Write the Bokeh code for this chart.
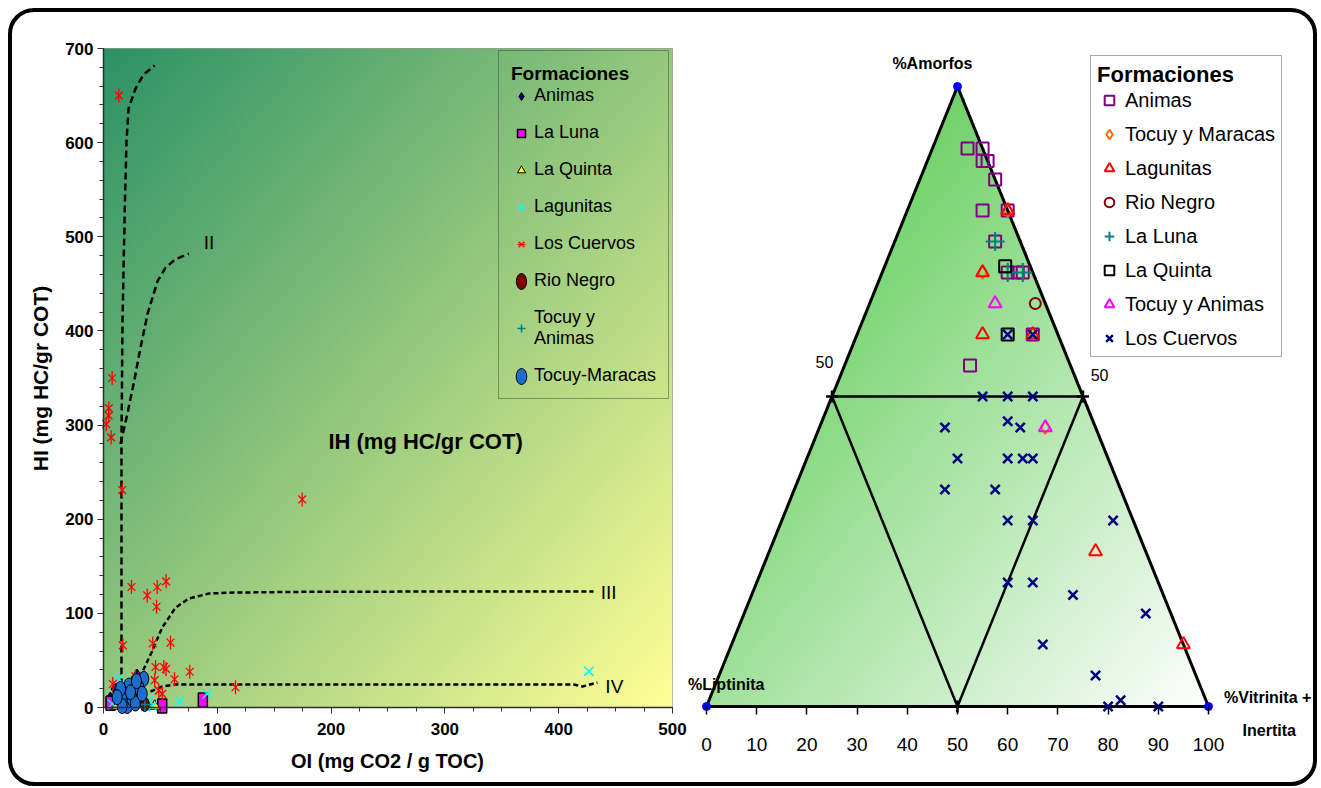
import numpy as np
from bokeh.plotting import figure
from bokeh.models import (Range1d, Legend, LegendItem, Label, SingleIntervalTicker, FixedTicker,
                          BoxAnnotation)
from bokeh.layouts import row
from bokeh.embed import file_html
from bokeh.resources import INLINE

FONT = "Liberation Sans"

# ---------------- Left chart data: HI vs OI ----------------
animas_oi = [29.5, 10.5, 6.0, 34.0, 25.0]
animas_hi = [34.0, 19.8, 9.5, 5.0, 26.0]
laluna_oi = [87.3, 51.6, 6.2]
laluna_hi = [8.1, 1.5, 4.6]
laquinta_oi = [45.0, 28.0, 12.0]
laquinta_hi = [1.5, 9.2, 1.5]
lagunitas_oi = [426.5, 91.0, 66.8, 39.8, 37.0, 42.8, 13.5, 7.6, 34.0]
lagunitas_hi = [38.5, 14.5, 6.7, 7.4, 1.0, 1.5, 30.4, 3.9, 12.7]
cuervos_oi = [13.5, 7.6, 4.7, 4.5, 2.4, 6.7, 16.4, 174.6, 24.6, 38.4, 47.2, 55.0, 46.6, 17.0,
              43.3, 58.9, 8.2, 45.7, 53.0, 55.0, 62.4, 75.8, 45.0, 48.6, 51.6, 116.0, 28.0]
cuervos_hi = [650, 350, 318, 310, 301, 287, 231, 221, 128, 119, 128, 134, 107, 66,
              68, 69, 25, 43, 43, 41, 30, 38, 29, 18, 14.5, 21.5, 33]
rionegro_oi = [36.3]
rionegro_hi = [3.2]
tocuyanimas_oi = [36.3, 28.0]
tocuyanimas_hi = [3.2, 30.0]
tocuymaracas_oi = [22.3, 35.4, 17.8, 20.8, 15.0, 25.2, 31.0, 28.0, 16.4, 23.7, 12.0, 34.0, 29.0]
tocuymaracas_hi = [23.3, 30.4, 11.0, 1.5, 19.8, 9.2, 21.5, 4.2, 1.5, 16.2, 11.0, 14.5, 28.0]

# kerogen type boundary curves
curve_i_oi = [15.8, 15.8, 16.7, 18.7, 20.2, 22.0, 28.0, 35.0, 45.0]
curve_i_hi = [0, 280, 410, 530, 601, 636, 657, 672, 682]
curve_ii_oi = [15.0, 21.0, 27.0, 32.5, 38.7, 47.5, 54.5, 63.0, 75.0]
curve_ii_hi = [280, 312, 347, 382, 418, 453, 467, 476, 482]
curve_iii_oi = [23.7, 34.0, 42.8, 51.6, 63.3, 74.7, 92.3, 110.0, 186.0, 430.6]
curve_iii_hi = [18.0, 37.4, 60.0, 85.0, 106.0, 115.6, 121.0, 122.0, 123.0, 123.3]
curve_iv_oi = [41.3, 51.8, 63.3, 300.0, 413.0, 421.0, 434.0]
curve_iv_hi = [17.0, 22.3, 24.4, 24.4, 24.4, 22.3, 26.5]

# ---------------- Right chart data: ternary (% Amorfos, % Vitrinita+Inertita) ----------------
t_animas_a = [90, 90, 88, 88, 85, 80, 80, 75, 70, 70, 70, 60, 55]
t_animas_v = [7, 10, 11, 12, 15, 15, 20, 20, 25, 27, 28, 35, 25]
t_tocuymar_a = [80, 70, 45]
t_tocuymar_v = [20, 20, 45]
t_lagunitas_a = [80, 70, 60, 60, 25, 10]
t_lagunitas_v = [20, 20, 25, 35, 65, 90]
t_rionegro_a = [65]
t_rionegro_v = [33]
t_laluna_a = [75, 70, 70]
t_laluna_v = [20, 25, 28]
t_laquinta_a = [71, 60]
t_laquinta_v = [24, 30]
t_tocuyani_a = [65, 45]
t_tocuyani_v = [25, 45]
t_cuervos_a = [50, 50, 50, 46, 45, 45, 40, 40, 40, 40, 35, 35, 30, 30, 30, 20, 20, 18, 15, 10, 5, 1, 0, 0, 60, 60]
t_cuervos_v = [30, 35, 40, 37, 40, 25, 30, 40, 43, 45, 30, 40, 45, 50, 66, 50, 55, 64, 80, 62, 75, 82, 80, 90, 30, 35]
x_ticks = [0, 10, 20, 30, 40, 50, 60, 70, 80, 90, 100]


def tern(a, v):
    a = np.asarray(a, float)
    v = np.asarray(v, float)
    return v + a / 2.0, a


def gradient(nx, ny, c0, c1, mask=None):
    u = np.linspace(0, 1, nx)[None, :]
    w = np.linspace(0, 1, ny)[:, None]
    t = (u + (1 - w)) / 2.0
    img = np.empty((ny, nx), dtype=np.uint32)
    view = img.view(dtype=np.uint8).reshape((ny, nx, 4))
    for k in range(3):
        view[:, :, k] = (c0[k] + t * (c1[k] - c0[k])).astype(np.uint8)
    view[:, :, 3] = 255
    if mask is not None:
        view[:, :, 3] = np.where(mask, 255, 0)
    return img


TOP, BOT = 20, 6   # shared frame borders of both panels

# ====================== LEFT FIGURE ======================
p1 = figure(width=675, height=770, x_range=Range1d(-79.96, 513.18), y_range=Range1d(-73.29, 717.0),
            output_backend="svg", toolbar_location=None,
            min_border_left=0, min_border_right=0, min_border_top=TOP, min_border_bottom=BOT,
            background_fill_color=None, border_fill_color=None, outline_line_color=None)
p1.grid.visible = False

p1.image_rgba(image=[gradient(300, 300, (44, 146, 102), (255, 255, 150))], x=0, y=0, dw=500, dh=700)
p1.add_layout(BoxAnnotation(left=0, right=500, bottom=0, top=700, fill_alpha=0,
                            line_color="#222222", line_width=1))

for cx, cy, dash in [(curve_i_oi, curve_i_hi, "7 4"), (curve_ii_oi, curve_ii_hi, "7 4"),
                     (curve_iii_oi, curve_iii_hi, "5 3"), (curve_iv_oi, curve_iv_hi, "5 3")]:
    p1.line(cx, cy, line_color="black", line_width=2.5, line_dash=dash)

r_an = p1.scatter(animas_oi, animas_hi, marker="diamond", size=13, fill_color="#000080",
                  line_color="black", line_width=1)
r_lu_sq = p1.scatter(laluna_oi, laluna_hi, marker="square", size=8, fill_color="#FF00FF",
                     line_color="black", line_width=1.5)
r_lu = p1.rect(laluna_oi, laluna_hi, width=9, height=14, width_units="screen", height_units="screen",
               fill_color="#FF00FF", line_color="black", line_width=1.5)
r_lq = p1.scatter(laquinta_oi, laquinta_hi, marker="triangle", size=11, fill_color="#FFFF00",
                  line_color="black", line_width=1)
r_lg = p1.scatter(lagunitas_oi, lagunitas_hi, marker="x", size=13, line_color="#00FFFF", line_width=1.5)
r_cu1 = p1.scatter(cuervos_oi, cuervos_hi, marker="x", size=11, line_color="#FF0000", line_width=1.3)
r_cu2 = p1.scatter(cuervos_oi, cuervos_hi, marker="dash", size=14, angle=np.pi / 2,
                   line_color="#FF0000", line_width=1.3)
r_rn = p1.ellipse(rionegro_oi, rionegro_hi, width=9, height=14, width_units="screen", height_units="screen",
                  fill_color="#800000", line_color="black", line_width=1)
r_ta = p1.scatter(tocuyanimas_oi, tocuyanimas_hi, marker="cross", size=13, line_color="#008080", line_width=1.5)
r_tm = p1.ellipse(tocuymaracas_oi, tocuymaracas_hi, width=10, height=15, width_units="screen",
                  height_units="screen", fill_color="#1A6ECC", line_color="black", line_width=1)

p1.xaxis.ticker = SingleIntervalTicker(interval=100, num_minor_ticks=4)
p1.yaxis.ticker = SingleIntervalTicker(interval=100, num_minor_ticks=5)
p1.xaxis.fixed_location = 0
p1.yaxis.fixed_location = 0
p1.xaxis.bounds = (0, 500)
p1.yaxis.bounds = (0, 700)
for ax in (p1.xaxis[0], p1.yaxis[0]):
    ax.axis_line_color = "#333333"
    ax.axis_line_width = 1.5
    ax.major_tick_in = 0
    ax.major_tick_out = 6
    ax.minor_tick_in = 0
    ax.minor_tick_out = 4
    ax.major_tick_line_color = "#333333"
    ax.minor_tick_line_color = "#333333"
    ax.major_label_text_font = FONT
    ax.major_label_text_font_style = "bold"
    ax.major_label_text_font_size = "17px"
    ax.major_label_text_color = "black"
p1.xaxis.major_label_standoff = 9
p1.yaxis.major_label_standoff = 4

p1.add_layout(Label(x=-55.4, y=349.5, text="HI (mg HC/gr COT)", angle=np.pi / 2, text_font=FONT,
                    text_font_style="bold", text_font_size="21px", text_align="center",
                    text_baseline="middle", text_color="black"))
p1.add_layout(Label(x=249.6, y=-56.3, text="OI (mg CO2 / g TOC)", text_font=FONT,
                    text_font_style="bold", text_font_size="20px", text_align="center",
                    text_baseline="middle", text_color="black"))
p1.add_layout(Label(x=283, y=283, text="IH (mg HC/gr COT)", text_font=FONT, text_font_style="bold",
                    text_font_size="22px", text_align="center", text_baseline="middle",
                    text_color="black"))
for tx, ty, tt in [(88, 494, "II"), (437, 122, "III"), (441, 22, "IV")]:
    p1.add_layout(Label(x=tx, y=ty, text=tt, text_font=FONT, text_font_size="19px",
                        text_align="left", text_baseline="middle", text_color="black"))

leg1 = Legend(items=[
    LegendItem(label="Animas", renderers=[r_an]),
    LegendItem(label="La Luna", renderers=[r_lu_sq]),
    LegendItem(label="La Quinta", renderers=[r_lq]),
    LegendItem(label="Lagunitas", renderers=[r_lg]),
    LegendItem(label="Los Cuervos", renderers=[r_cu1, r_cu2]),
    LegendItem(label="Rio Negro", renderers=[r_rn]),
    LegendItem(label="Tocuy y\nAnimas", renderers=[r_ta]),
    LegendItem(label="Tocuy-Maracas", renderers=[r_tm]),
], location=(486, 377), title="Formaciones")
leg1.padding = 12
leg1.spacing = 16
leg1.glyph_width = 20
leg1.glyph_height = 20
leg1.label_height = 20
leg1.label_standoff = 3
leg1.title_standoff = 0
leg1.label_text_font = FONT
leg1.label_text_font_size = "18px"
leg1.label_text_line_height = 1.0
leg1.label_text_color = "black"
leg1.title_text_font = FONT
leg1.title_text_font_style = "bold"
leg1.title_text_font_size = "19px"
leg1.title_text_color = "black"
leg1.border_line_color = "#444444"
leg1.border_line_width = 1.5
leg1.background_fill_alpha = 0
p1.add_layout(leg1)

# ====================== RIGHT FIGURE ======================
p2 = figure(width=626, height=770, x_range=Range1d(-3.785, 120.92), y_range=Range1d(-11.29, 108.71),
            output_backend="svg", toolbar_location=None, y_axis_location=None,
            min_border_left=0, min_border_right=0, min_border_top=TOP, min_border_bottom=BOT,
            background_fill_color=None, border_fill_color=None, outline_line_color=None)
p2.grid.visible = False

tri_x = [0, 100, 50, 0]
tri_y = [0, 0, 100, 0]

nx, ny = 300, 300
gx = np.linspace(0, 100, nx)[None, :]
gy = np.linspace(0, 100, ny)[:, None]
inside = (gy <= 2 * gx + 0.5) & (gy <= 2 * (100 - gx) + 0.5)
p2.image_rgba(image=[gradient(nx, ny, (65, 195, 55), (255, 255, 255), inside)], x=0, y=0, dw=100, dh=100)

p2.line(tri_x, tri_y, line_color="black", line_width=3)
mid_x = [25, 75, 50, 25]
mid_y = [50, 50, 0, 50]
p2.line(mid_x, mid_y, line_color="black", line_width=2.5)
p2.scatter(mid_x[:3], mid_y[:3], marker="cross", size=12, line_color="black", line_width=2.5)
p2.scatter(tri_x[:3], tri_y[:3], marker="circle", size=8, fill_color="#0000FF", line_color="#0000FF")

sty = dict(fill_color=None, line_width=2)
x, y = tern(t_animas_a, t_animas_v)
q_an = p2.scatter(x, y, marker="square", size=12, line_color="#800080", **sty)
x, y = tern(t_tocuymar_a, t_tocuymar_v)
q_tm = p2.scatter(x, y, marker="diamond", size=13, line_color="#FF6600", **sty)
x, y = tern(t_lagunitas_a, t_lagunitas_v)
q_lg = p2.scatter(x, y, marker="triangle", size=13, line_color="#FF0000", **sty)
x, y = tern(t_rionegro_a, t_rionegro_v)
q_rn = p2.scatter(x, y, marker="circle", size=11, line_color="#800000", **sty)
x, y = tern(t_laluna_a, t_laluna_v)
q_lu = p2.scatter(x, y, marker="cross", size=19, line_color="#008080", line_width=2)
x, y = tern(t_laquinta_a, t_laquinta_v)
q_lq = p2.scatter(x, y, marker="square", size=12, line_color="black", **sty)
x, y = tern(t_tocuyani_a, t_tocuyani_v)
q_ta = p2.scatter(x, y, marker="triangle", size=13, line_color="#FF00FF", **sty)
x, y = tern(t_cuervos_a, t_cuervos_v)
q_cu = p2.scatter(x, y, marker="x", size=13, line_color="#000080", line_width=2.5)

ax2 = p2.xaxis[0]
ax2.ticker = FixedTicker(ticks=x_ticks)
ax2.bounds = (0, 100)
ax2.fixed_location = 0
ax2.axis_line_color = None
ax2.major_tick_in = 0
ax2.major_tick_out = 8
ax2.major_tick_line_color = "black"
ax2.major_tick_line_width = 1.5
ax2.minor_tick_line_color = None
ax2.major_label_standoff = 23
ax2.major_label_text_font = FONT
ax2.major_label_text_font_size = "19px"
ax2.major_label_text_color = "black"

lab = dict(text_font=FONT, text_font_style="bold", text_font_size="16px", text_baseline="middle",
           text_color="black")
p2.add_layout(Label(x=45, y=103.7, text="%Amorfos", text_align="center", **lab))
p2.add_layout(Label(x=-3.7, y=3.5, text="%Liptinita", text_align="left", **lab))
p2.add_layout(Label(x=103.1, y=1.5, text="%Vitrinita +", text_align="left", **lab))
p2.add_layout(Label(x=106.8, y=-3.9, text="Inertita", text_align="left", **lab))
p2.add_layout(Label(x=23.5, y=55.5, text="50", text_align="center", text_baseline="middle",
                    text_font=FONT, text_font_size="16px", text_color="black"))
p2.add_layout(Label(x=78.3, y=53.4, text="50", text_align="center", text_baseline="middle",
                    text_font=FONT, text_font_size="16px", text_color="black"))

leg2 = Legend(items=[
    LegendItem(label="Animas", renderers=[q_an]),
    LegendItem(label="Tocuy y Maracas", renderers=[q_tm]),
    LegendItem(label="Lagunitas", renderers=[q_lg]),
    LegendItem(label="Rio Negro", renderers=[q_rn]),
    LegendItem(label="La Luna", renderers=[q_lu]),
    LegendItem(label="La Quinta", renderers=[q_lq]),
    LegendItem(label="Tocuy y Animas", renderers=[q_ta]),
    LegendItem(label="Los Cuervos", renderers=[q_cu]),
], location=(403, 419), title="Formaciones")
leg2.padding = 6
leg2.spacing = 10
leg2.glyph_width = 24
leg2.glyph_height = 24
leg2.label_height = 24
leg2.label_standoff = 4
leg2.title_standoff = 0
leg2.label_text_font = FONT
leg2.label_text_font_size = "20px"
leg2.label_text_color = "black"
leg2.title_text_font = FONT
leg2.title_text_font_style = "bold"
leg2.title_text_font_size = "22px"
leg2.title_text_color = "black"
leg2.border_line_color = "#555555"
leg2.border_line_width = 1.5
leg2.background_fill_color = "white"
leg2.background_fill_alpha = 1
p2.add_layout(leg2)

layout = row(p1, p2, styles={"border": "4px solid black", "border-radius": "26px",
                             "margin": "8px 0px 0px 8px", "background-color": "white"})

open("out.html", "w").write(file_html(layout, INLINE))
